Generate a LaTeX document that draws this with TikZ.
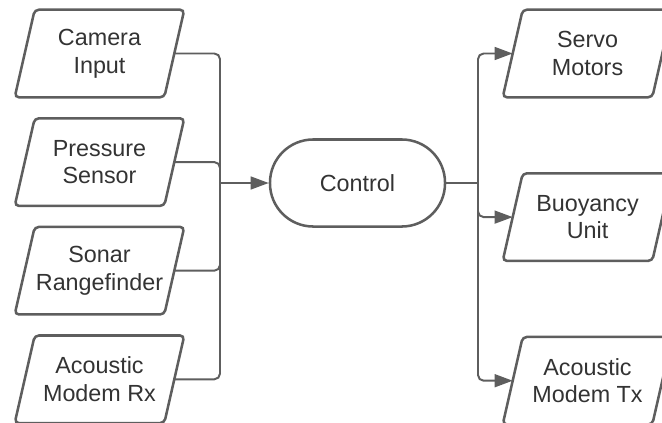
\documentclass[tikz,border=0pt]{standalone}
\usepackage{fontspec}
\setmainfont{Liberation Sans}
\usepackage{xcolor}
\usetikzlibrary{arrows.meta,positioning}

\definecolor{edge}{HTML}{5E5E5E}
\definecolor{ink}{HTML}{333333}

\begin{document}
\begin{tikzpicture}[
    x=0.025cm, y=-0.025cm,
    io/.style={rectangle, minimum width=3.725cm, minimum height=2.175cm, align=center,
        text=ink, font=\fontsize{16.6}{19.6}\selectfont, inner sep=0pt},
    ioframe/.style={draw=edge, line width=1.8pt, rounded corners=3pt},
    ctrlbox/.style={rectangle, rounded corners=1.08cm, draw=edge, line width=1.8pt,
        minimum width=4.375cm, minimum height=2.175cm, text=ink,
        font=\fontsize{16.6}{19.6}\selectfont},
    wire/.style={draw=edge, line width=1.4pt, rounded corners=4pt},
    arrow/.style={wire, -{Triangle[length=0.45cm, width=0.32cm]}}
]
\clip (0,0) rectangle (662,422);

% Inputs
\node[io] (cam) at (99.5,53.5) {Camera\\Input};
\node[io, below=0.525cm of cam] (press) {Pressure\\Sensor};
\node[io, below=0.525cm of press] (sonar) {Sonar\\Rangefinder};
\node[io, below=0.525cm of sonar] (rx) {Acoustic\\Modem Rx};

% Control
\node[ctrlbox] (ctrl) at (357.5,183) {Control};

% Outputs
\node[io] (servo) at (587.5,53.5) {Servo\\Motors};
\node[io, below=1.9cm of servo] (buoy) {Buoyancy\\Unit};
\node[io, below=1.9cm of buoy] (tx) {Acoustic\\Modem Tx};

% Slanted frames
\foreach \n in {cam,press,sonar,rx,servo,buoy,tx}
    \draw[ioframe] ([xshift=-0.25cm]\n.south west) -- ([xshift=-0.25cm]\n.south east)
        -- ([xshift=0.25cm]\n.north east) -- ([xshift=0.25cm]\n.north west) -- cycle;

% Junctions
\coordinate (jin) at (220,183);
\coordinate (jout) at (478,183);

% Arrows
\foreach \src in {cam,press,sonar,rx}
    \draw[wire] (\src.east) -| (jin);
\draw[arrow] (jin) -- (ctrl.west);
\draw[wire] (ctrl.east) -- (jout);
\foreach \dst in {servo,buoy,tx}
    \draw[arrow] (jout) |- (\dst.west);

\end{tikzpicture}
\end{document}
